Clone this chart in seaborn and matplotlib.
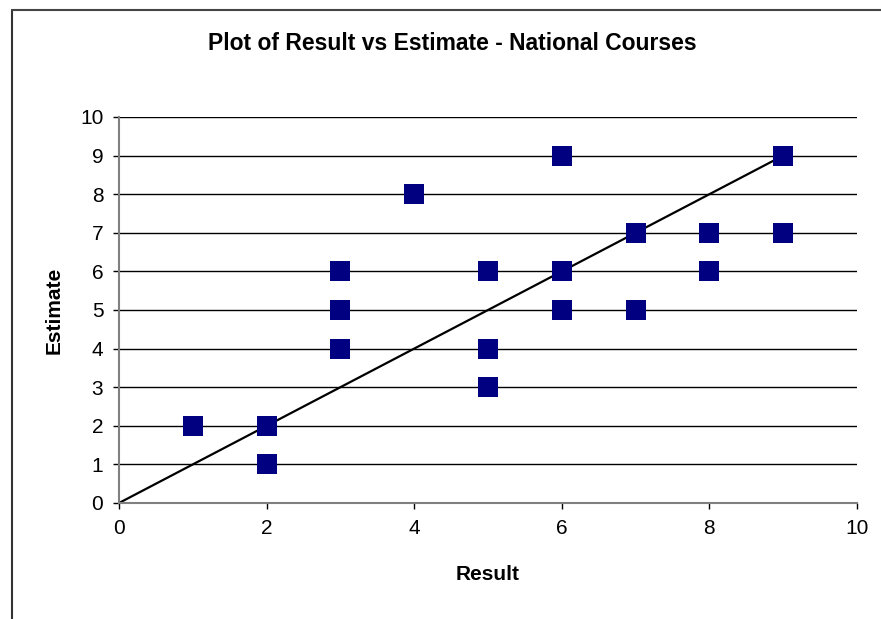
import numpy as np
import matplotlib
matplotlib.use("Agg")
import matplotlib.pyplot as plt
import matplotlib.lines as mlines
import seaborn as sns
import pandas as pd

sns.set_theme(style="white")
plt.rcParams['font.family'] = ['Liberation Sans', 'DejaVu Sans']
plt.rcParams['text.color'] = 'black'

# data
result = [1, 2, 2, 3, 3, 3, 4, 5, 5, 5, 6, 6, 6, 7, 7, 8, 8, 9, 9]
estimate = [2, 2, 1, 6, 5, 4, 8, 6, 4, 3, 9, 6, 5, 7, 5, 7, 6, 9, 7]
fit_x = [0, 9]
fit_y = [0, 9]

NAVY = "#000080"
GREY = "#808080"

df = pd.DataFrame({"Result": result, "Estimate": estimate})

fig = plt.figure(figsize=(8.81, 6.19), dpi=100)
ax = fig.add_axes([0.1351, 0.1874, 0.8377, 0.6236])

# horizontal grid only
for yv in range(1, 11):
    ax.axhline(yv, color="black", linewidth=1, zorder=1)

sns.lineplot(x=fit_x, y=fit_y, ax=ax, color="black", linewidth=1.6, zorder=2)
sns.scatterplot(data=df, x="Result", y="Estimate", ax=ax, marker="s",
                s=210, color=NAVY, edgecolor=NAVY, linewidth=0, zorder=3)

ax.set_xlim(0, 10)
ax.set_ylim(0, 10)
ax.set_xticks(np.arange(0, 11, 2))
ax.set_yticks(np.arange(0, 11, 1))
ax.tick_params(axis="both", direction="out", length=4.3, width=1, color="black",
               labelsize=15, labelcolor="black", bottom=True, left=True, pad=7)

for side in ["top", "right"]:
    ax.spines[side].set_visible(False)
for side in ["left", "bottom"]:
    ax.spines[side].set_color(GREY)
    ax.spines[side].set_linewidth(1.5)

ax.set_xlabel("Result", fontsize=15, fontweight="bold", labelpad=20, color="black")
ax.set_ylabel("Estimate", fontsize=15, fontweight="bold", labelpad=12, color="black")

fig.text(0.513, 0.93, "Plot of Result vs Estimate - National Courses",
         ha="center", va="center", fontsize=16.5, fontweight="bold")

# chart area border (left and top visible)
fig.add_artist(mlines.Line2D([0.0136, 0.0136], [0.0, 0.984], color="#333333", linewidth=1.5))
fig.add_artist(mlines.Line2D([0.0136, 1.0], [0.984, 0.984], color="#444444", linewidth=1.5))

fig.savefig("out.png", dpi=100, facecolor="white")
